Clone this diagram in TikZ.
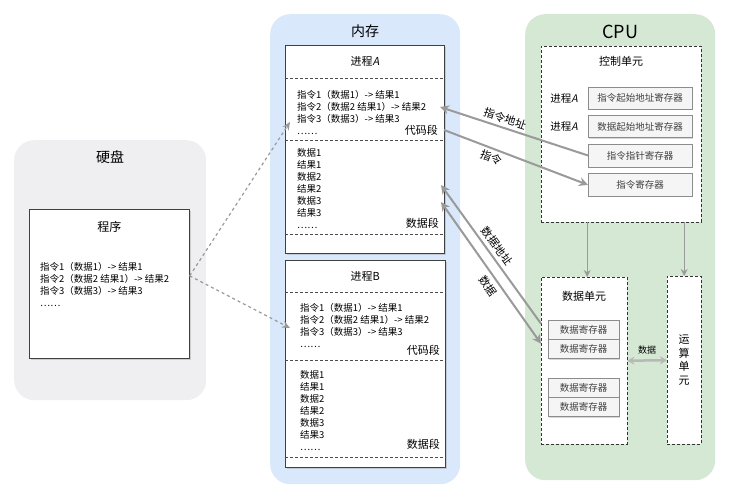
\documentclass[tikz,border=0pt]{standalone}
\usepackage{fontspec}
\setmainfont[ItalicFont=Noto Sans CJK SC, ItalicFeatures={FakeSlant=0.2}]{Noto Sans CJK SC}
\usetikzlibrary{positioning,arrows.meta,shadows}

\definecolor{diskgray}{HTML}{EFEFF1}
\definecolor{memblue}{HTML}{DAE8FC}
\definecolor{cpugreen}{HTML}{D5E8D4}
\definecolor{linegray}{HTML}{9A9A9A}

\tikzset{
  panel/.style={rounded corners=20pt, anchor=north west, inner sep=0pt},
  title/.style={font=\fontsize{14}{14}\selectfont, inner sep=0pt},
  subtitle/.style={font=\fontsize{11}{11}\selectfont, inner sep=0pt},
  box/.style={draw=black!75, fill=white, line width=0.7pt, anchor=north west, inner sep=0pt,
    drop shadow={shadow xshift=1.5pt, shadow yshift=-1.5pt, opacity=0.3}},
  unitbox/.style={draw=black!80, densely dashed, fill=white, anchor=north west, inner sep=0pt},
  reg/.style={draw=black!45, fill=black!4, anchor=north west, inner sep=0pt,
    font=\fontsize{9.5}{9.5}\selectfont, text=black!75,
    drop shadow={shadow xshift=1pt, shadow yshift=-1pt, opacity=0.3}},
  codetext/.style={font=\fontsize{9.5}{12}\selectfont, align=left, anchor=north west, inner sep=0pt},
  seg/.style={font=\fontsize{11}{11}\selectfont, anchor=east, inner sep=0pt},
  divider/.style={densely dashed, black!70, line width=0.6pt},
  flow/.style={linegray, line width=2pt, -{Stealth[length=9pt,width=9pt]}},
  thinflow/.style={linegray, line width=1.4pt, -{Stealth[length=7pt,width=7pt]}},
  load/.style={linegray, dashed, line width=1.2pt, -{Stealth[length=8pt,width=7pt]}},
  lbl/.style={font=\fontsize{11}{11}\selectfont, text=black, inner sep=1pt},
}

\begin{document}
\begin{tikzpicture}[x=1pt, y=-1pt]
  \useasboundingbox (0,0) rectangle (730,500);

  % three panels
  \node[panel, fill=diskgray, minimum width=192pt, minimum height=260pt] (disk) at (14,140) {};
  \node[panel, fill=memblue, minimum width=190pt, minimum height=470pt] (mem) at (270,14) {};
  \node[panel, fill=cpugreen, minimum width=190pt, minimum height=466pt] (cpu) at (525,14) {};
  \node[title, below=10pt of disk.north] (diskT) {硬盘};
  \node[title, below=11pt of mem.north] (memT) {内存};
  \node[title, font=\fontsize{18}{18}\selectfont, below=11pt of cpu.north] (cpuT) {CPU};

  % disk: program
  \node[box, minimum width=160pt, minimum height=149pt] (prog) at (29,209) {};
  \node[subtitle, font=\fontsize{12}{12}\selectfont, below=12pt of prog.north] (progT) {程序};
  \node[codetext] (progCode) at (40,262) {指令1（数据1）-> 结果1\\指令2（数据2 结果1）-> 结果2\\指令3（数据3）-> 结果3\\……};

  % memory: process A
  \node[box, minimum width=159pt, minimum height=208pt] (procA) at (285,45) {};
  \node[subtitle, below=11pt of procA.north] (procAT) {进程\textit{A}};
  \draw[divider] (procA.west |- 0,78) -- (procA.east |- 0,78);
  \draw[divider] (procA.west |- 0,140) -- (procA.east |- 0,140);
  \draw[divider] (procA.west |- 0,234) -- (procA.east |- 0,234);
  \node[codetext] (codeA) at (297,90) {指令1（数据1）-> 结果1\\指令2（数据2 结果1）-> 结果2\\指令3（数据3）-> 结果3\\……};
  \node[seg] (segA1) at (438,130) {代码段};
  \node[codetext] (dataA) at (297,148) {数据1\\结果1\\数据2\\结果2\\数据3\\结果3\\……};
  \node[seg] (segA2) at (439,223) {数据段};

  % memory: process B
  \node[box, minimum width=160pt, minimum height=207pt] (procB) at (285,260) {};
  \node[subtitle, below=11pt of procB.north] (procBT) {进程B};
  \draw[divider] (procB.west |- 0,292) -- (procB.east |- 0,292);
  \draw[divider] (procB.west |- 0,360) -- (procB.east |- 0,360);
  \draw[divider] (procB.west |- 0,457) -- (procB.east |- 0,457);
  \node[codetext] (codeB) at (300,303) {指令1（数据1）-> 结果1\\指令2（数据2 结果1）-> 结果2\\指令3（数据3）-> 结果3\\……};
  \node[seg] (segB1) at (440,350) {代码段};
  \node[codetext] (dataB) at (300,370) {数据1\\结果1\\数据2\\结果2\\数据3\\结果3\\……};
  \node[seg] (segB2) at (440,444) {数据段};

  % cpu: control unit
  \node[unitbox, minimum width=160pt, minimum height=176pt] (ctrl) at (541,46) {};
  \node[subtitle, below=10pt of ctrl.north] (ctrlT) {控制单元};
  \node[reg, minimum width=104pt, minimum height=22pt] (rIns) at (588,87) {指令起始地址寄存器};
  \node[reg, minimum width=104pt, minimum height=22pt, below=6pt of rIns] (rDat) {数据起始地址寄存器};
  \node[reg, minimum width=104pt, minimum height=23pt, below=6pt of rDat] (rPtr) {指令指针寄存器};
  \node[reg, minimum width=104pt, minimum height=23pt, below=6pt of rPtr] (rCur) {指令寄存器};
  \node[subtitle, font=\fontsize{10.5}{10.5}\selectfont, left=10pt of rIns] (pA1) {进程\textit{A}};
  \node[subtitle, font=\fontsize{10.5}{10.5}\selectfont, left=10pt of rDat] (pA2) {进程\textit{A}};

  % cpu: data unit and alu
  \node[unitbox, minimum width=86pt, minimum height=167pt] (dunit) at (541,277) {};
  \node[subtitle, below=14pt of dunit.north] (dunitT) {数据单元};
  \node[reg, minimum width=71pt, minimum height=19pt] (dr1) at (548,320) {数据寄存器};
  \node[reg, minimum width=71pt, minimum height=19pt, below=0pt of dr1] (dr2) {数据寄存器};
  \node[reg, minimum width=71pt, minimum height=19pt] (dr3) at (548,378) {数据寄存器};
  \node[reg, minimum width=71pt, minimum height=19pt, below=0pt of dr3] (dr4) {数据寄存器};
  \node[unitbox, minimum width=34pt, minimum height=168pt] (alu) at (667,276) {};
  \node[subtitle, align=center, font=\fontsize{11}{13.5}\selectfont] (aluT) at (alu.center) {运\\算\\单\\元};

  \draw[thinflow] ([xshift=3pt]ctrl.south -| dunit.north) -- ([xshift=3pt]dunit.north);
  \draw[thinflow] (ctrl.south -| alu.north) -- (alu.north);
  \draw[thinflow, line width=2.5pt, linegray!70, {Stealth[length=7pt,width=8pt]}-{Stealth[length=7pt,width=8pt]}]
    (dunit.east) -- node[lbl, font=\fontsize{9}{9}\selectfont, above=4pt] (xT) {数据} (alu.west);

  % memory <-> cpu
  \coordinate (insIn) at (440,107);
  \coordinate (datAddrIn) at (441,185);
  \coordinate (datIn) at (441,202);
  \draw[flow] (rPtr.west) -- node[lbl, sloped, above=2pt, pos=0.58] {指令地址} (insIn);
  \draw[flow] ([xshift=6pt]segA1.east) -- node[lbl, sloped, below=2pt, pos=0.35] {指令} (rCur.west);
  \draw[flow] ([yshift=37pt]dunit.west) -- node[lbl, sloped, above=3pt, pos=0.52] {数据地址} (datAddrIn);
  \draw[flow, {Stealth[length=9pt,width=9pt]}-{Stealth[length=9pt,width=9pt]}]
    (datIn) -- node[lbl, sloped, below=3pt, pos=0.55] {数据} ([yshift=17pt]dunit.west);

  % disk -> memory
  \coordinate (loadA) at (290,122);
  \coordinate (loadB) at (290,328);
  \draw[load] ([yshift=8pt]prog.east) -- (loadA);
  \draw[load] ([yshift=8pt]prog.east) -- (loadB);
\end{tikzpicture}
\end{document}
